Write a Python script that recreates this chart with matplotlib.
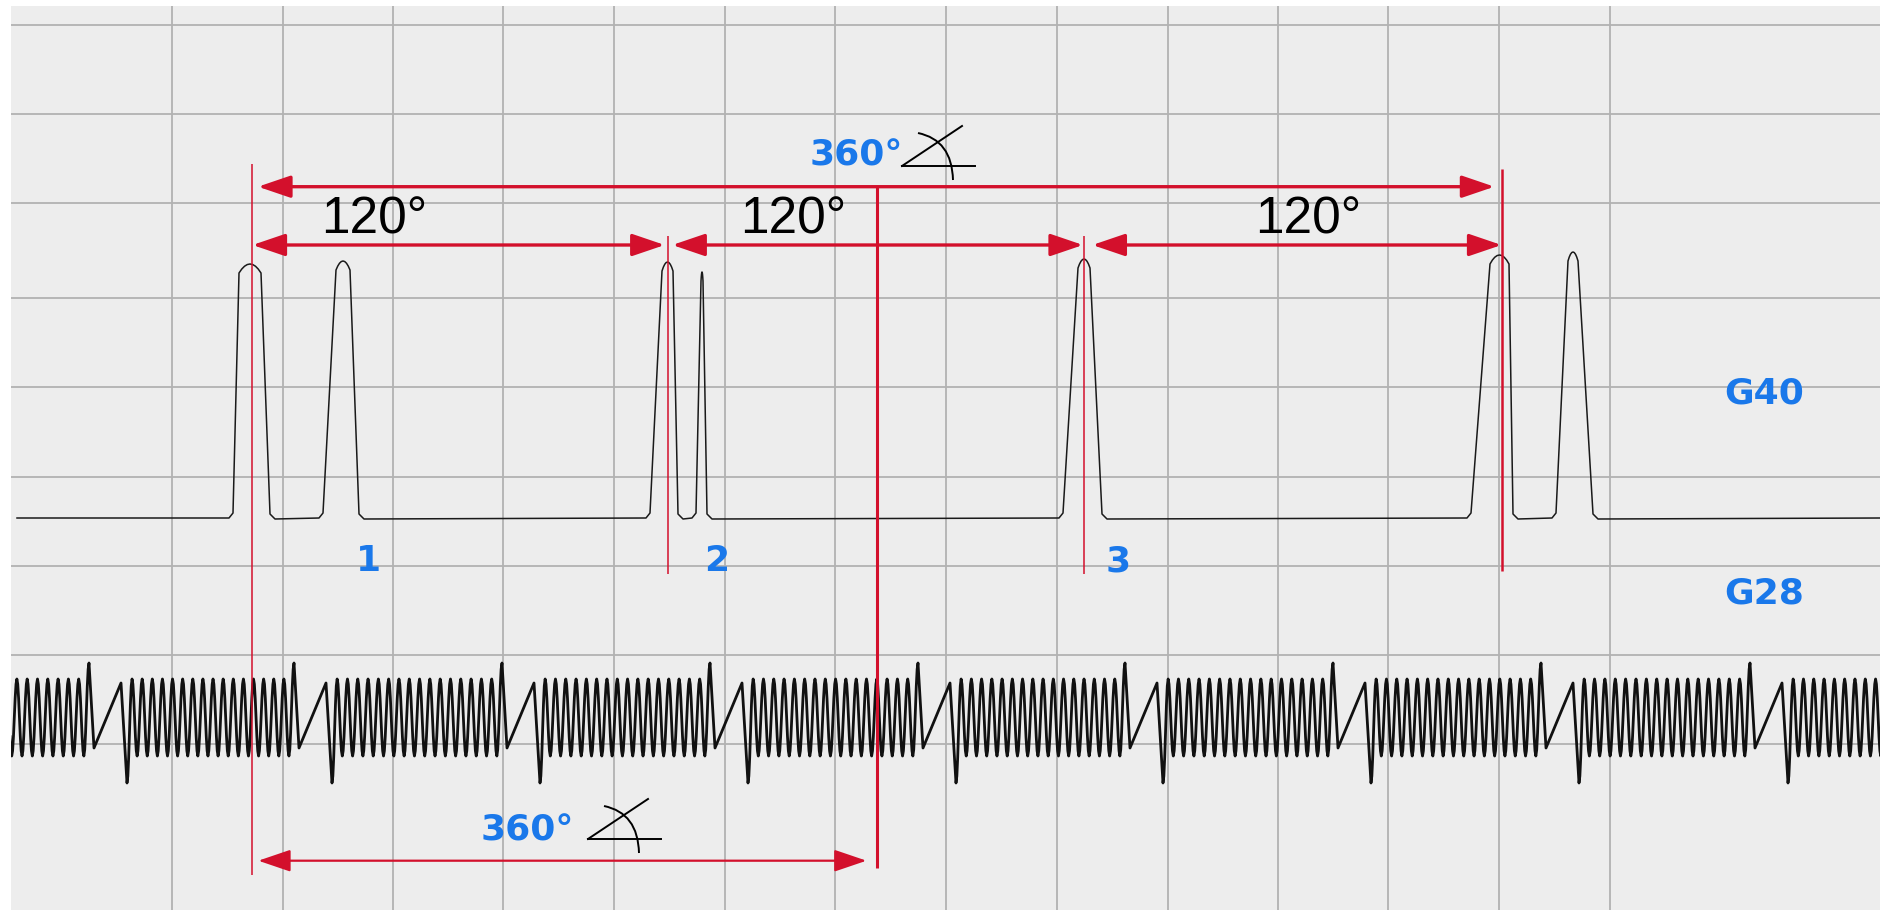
import matplotlib
matplotlib.use("Agg")
import matplotlib.pyplot as plt
from matplotlib.patches import FancyArrowPatch, PathPatch
from matplotlib.path import Path
import numpy as np

# --- data (pixel units of the 1881x910 image) ---
W, H = 1881, 910
left_edge, top_edge = 10.7, 6

grid_x = [172, 282.6, 393.3, 503.1, 613.8, 724.6, 835.3, 946.4, 1056.7,
          1167.9, 1278.1, 1388, 1498.8, 1609.6]
grid_y = [25.3, 114.3, 202.5, 297.7, 387, 476.7, 565.5, 655, 744]

# G40 (cam sensor) trace
g40_start = 17
g40_base = 518
peak_rise = [233, 323, 650, 696, 1063, 1471, 1556]
peak_top_l = [239, 336, 662, 701, 1078, 1490, 1568]
peak_top_r = [261, 350, 673, 703, 1090, 1509, 1578]
peak_fall = [270, 359, 678, 707, 1102, 1513, 1593]
peak_top = [264, 261, 262, 272, 259, 255, 252]

# G28 (crank sensor) trace, 3 gaps per crank revolution
gap_centers = [-100, 108, 313, 521, 729, 937, 1144, 1352, 1560, 1769, 1977]
teeth_between = 16
tooth_top, tooth_bottom = 679, 756
spike_top, deep_bottom = 663, 783
ramp_low, ramp_high = 748, 683

# markers / annotations
red_v = [  # x, y_top, y_bottom, width
    (251.7, 164, 875, 1.1),
    (668.3, 236, 574, 1.1),
    (1084, 236, 574, 1.1),
    (1501.8, 169, 571, 1.8),
    (876.8, 187, 868, 2.2),
]
arrows = [  # x_from, x_to, y, width
    (258, 1494.4, 186.7, 2.4),
    (252.5, 664.7, 245, 2.4),
    (672.3, 1083, 245, 2.4),
    (1092.4, 1501.5, 245, 2.4),
    (258.3, 866.5, 860.7, 1.6),
]
deg_labels = [("120°", 374, 234), ("120°", 793, 234), ("120°", 1308, 234)]
blue_labels = [("360°", 856, 166), ("360°", 527, 840.7),
               ("1", 369, 571), ("2", 717, 571), ("3", 1118, 571),
               ("G40", 1764, 403), ("G28", 1764, 603)]
angle_vertex = [(902, 166), (588, 839)]

red = "#d3102c"
blue = "#1a78ea"


def smooth_path(vx, vy, eased):
    # join vertices, with a cosine easing on the segments flagged as eased
    xs, ys = [vx[0]], [vy[0]]
    t = np.linspace(0, 1, 7)[1:]
    for i in range(len(vx) - 1):
        if eased[i]:
            k = (1 - np.cos(np.pi * t)) / 2
            xs.extend(vx[i] + (vx[i + 1] - vx[i]) * t)
            ys.extend(vy[i] + (vy[i + 1] - vy[i]) * k)
        else:
            xs.append(vx[i + 1])
            ys.append(vy[i + 1])
    return xs, ys


# --- build traces ---
gx, gy = [g40_start], [g40_base]
for r, tl, tr, f, t in zip(peak_rise, peak_top_l, peak_top_r, peak_fall, peak_top):
    gx += [r - 4, r]
    gy += [g40_base, g40_base - 5]
    u = np.linspace(-1, 1, 9)
    gx.extend(list((tl + tr) / 2 + u * (tr - tl) / 2))
    gy.extend(list(t + 9 * u ** 2))
    gx += [f, f + 5]
    gy += [g40_base - 4, g40_base + 1]
gx.append(W)
gy.append(g40_base)

cx, cy, ce = [], [], []
for g, g_next in zip(gap_centers[:-1], gap_centers[1:]):
    # deep dip right after the gap, then regular teeth, then tall tooth
    start, stop = g + 19, g_next - 19
    n_half = 2 * teeth_between + 1
    xs = np.linspace(start, stop, n_half + 1)
    for i, x in enumerate(xs):
        cx.append(x)
        ce.append(True)
        if i == 0:
            cy.append(deep_bottom)
        elif i == n_half:
            cy.append(spike_top)
        else:
            cy.append(tooth_top if i % 2 else tooth_bottom)
    # missing-tooth gap: slow ramp
    cx += [g_next - 14, g_next + 13]
    cy += [ramp_low, ramp_high]
    ce[-1] = False
    ce += [False, False]
cx, cy = smooth_path(cx, cy, ce)

# --- figure ---
fig = plt.figure(figsize=(W / 100, H / 100), dpi=100)
fig.patch.set_facecolor("white")
ax = fig.add_axes([left_edge / W, 0, 1 - left_edge / W, (H - top_edge) / H])
ax.set_xlim(left_edge, W)
ax.set_ylim(H, top_edge)
ax.set_facecolor("#ededed")
for s in ax.spines.values():
    s.set_visible(False)
ax.set_xticks(grid_x)
ax.set_yticks(grid_y)
ax.tick_params(length=0, labelbottom=False, labelleft=False)
ax.grid(True, color="#b2b2b2", lw=1.3)
ax.set_axisbelow(True)

ax.plot(gx, gy, color="#1a1a1a", lw=1.1, zorder=3)
ax.plot(cx, cy, color="#111111", lw=2.0, zorder=3)

for x, y0, y1, lw in red_v:
    ax.plot([x, x], [y0, y1], color=red, lw=lw, zorder=4, solid_capstyle="butt")

for x0, x1, y, lw in arrows:
    ax.add_patch(FancyArrowPatch((x0, y), (x1, y),
                                 arrowstyle="<|-|>,head_length=20,head_width=6.8",
                                 mutation_scale=1, color=red, lw=lw,
                                 shrinkA=0, shrinkB=0, zorder=5))

for txt, x, y in deg_labels:
    ax.text(x, y, txt, fontsize=37, family="Liberation Sans", color="black",
            ha="center", va="baseline", zorder=6)

for txt, x, y in blue_labels:
    ax.text(x, y, txt, fontsize=26, family="DejaVu Sans", weight="bold",
            color=blue, ha="center", va="baseline", zorder=6)

# hand-drawn angle sign next to the 360 labels
for vx, vy in angle_vertex:
    ax.plot([vx, vx + 73], [vy, vy], color="black", lw=1.4, zorder=6)
    ax.plot([vx, vx + 60], [vy, vy - 40], color="black", lw=1.4, zorder=6)
    arc = Path([(vx + 16, vy - 33), (vx + 50, vy - 26), (vx + 51, vy + 14)],
               [Path.MOVETO, Path.CURVE3, Path.CURVE3])
    ax.add_patch(PathPatch(arc, fill=False, color="black", lw=1.4, zorder=6))

fig.savefig("out.png", dpi=100, facecolor="white")
